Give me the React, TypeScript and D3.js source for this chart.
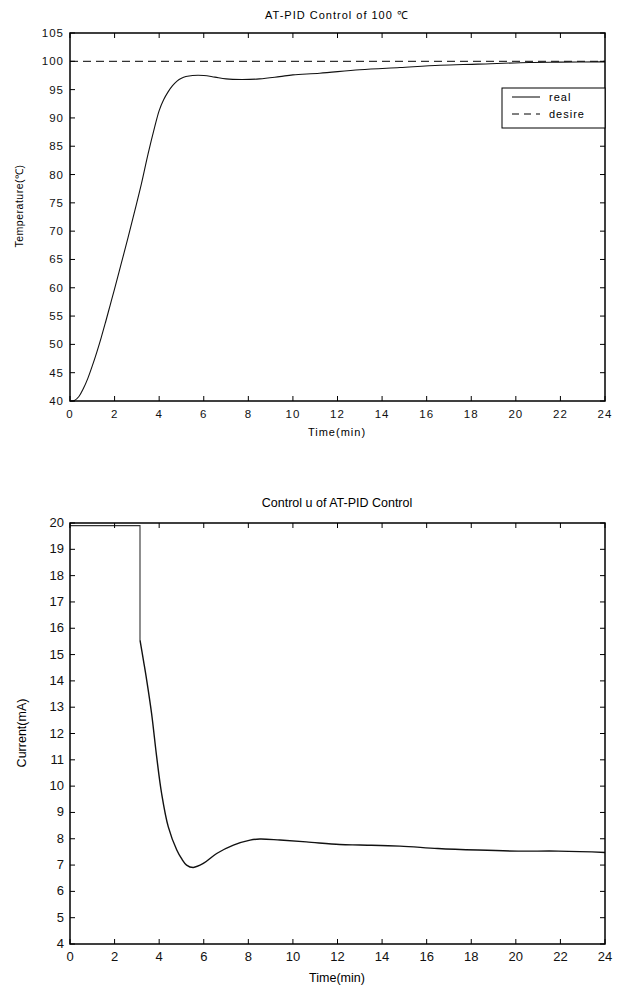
import React from 'react';
import * as d3 from 'd3';

// tick values
const timeTicks = [0, 2, 4, 6, 8, 10, 12, 14, 16, 18, 20, 22, 24];
const tempTicks = [40, 45, 50, 55, 60, 65, 70, 75, 80, 85, 90, 95, 100, 105];
const currentTicks = [4, 5, 6, 7, 8, 9, 10, 11, 12, 13, 14, 15, 16, 17, 18, 19, 20];

// temperature response (real) and set point (desire)
const tempTime = [0, 0.2, 0.4, 0.6, 0.8, 1.0, 1.2, 1.4, 1.6, 1.8, 2.0, 2.3, 2.6, 2.9, 3.2, 3.5, 3.8, 4.0, 4.2, 4.4, 4.6, 4.8, 5.0, 5.2, 5.5, 6.0, 6.5, 7.0, 7.7, 8.5, 9.4, 10, 11.2, 13, 14.8, 16.6, 18.3, 20.6, 22, 24];
const tempReal = [40, 40.1, 40.8, 42.2, 44.0, 46.2, 48.6, 51.2, 54.0, 56.9, 59.8, 64.3, 68.8, 73.5, 78.3, 83.6, 88.4, 91.3, 93.2, 94.6, 95.7, 96.5, 97.0, 97.3, 97.5, 97.5, 97.2, 96.9, 96.8, 96.9, 97.3, 97.6, 97.9, 98.5, 98.9, 99.3, 99.5, 99.8, 99.85, 99.9];
const desireTime = [0, 24];
const desireTemp = [100, 100];

// control signal u
const uHoldTime = [0, 3.14, 3.14];
const uHoldVal = [19.9, 19.9, 15.55];
const uTime = [3.14, 3.3, 3.44, 3.66, 3.89, 4.11, 4.41, 4.79, 5.0, 5.23, 5.53, 5.98, 6.58, 7.33, 8.08, 8.52, 9.42, 10.6, 12.1, 13.0, 14.8, 16.5, 18.3, 20.1, 21.9, 24];
const uVal = [15.55, 14.75, 14.03, 12.76, 11.1, 9.72, 8.45, 7.57, 7.25, 7.0, 6.91, 7.06, 7.44, 7.76, 7.95, 7.99, 7.95, 7.88, 7.78, 7.76, 7.72, 7.63, 7.57, 7.53, 7.53, 7.48];

const font = 'Liberation Sans, Arial, sans-serif';
const left = 70, right = 605;

function Frame({ x, y, xTicks, yTicks, spacing, size }) {
  const [x0, x1] = x.range();
  const [y0, y1] = y.range();
  const tk = 5;
  return (
    <g fontFamily={font} fontSize={size} letterSpacing={spacing} fill="#111">
      <rect x={x0} y={y1} width={x1 - x0} height={y0 - y1} fill="none" stroke="#000" strokeWidth={1.5} />
      {xTicks.map(t => (
        <g key={'x' + t}>
          <line x1={x(t)} x2={x(t)} y1={y0} y2={y0 - tk} stroke="#000" />
          <line x1={x(t)} x2={x(t)} y1={y1} y2={y1 + tk} stroke="#000" />
          <text x={x(t)} y={y0 + 17} textAnchor="middle">{t}</text>
        </g>
      ))}
      {yTicks.map(t => (
        <g key={'y' + t}>
          <line x1={x0} x2={x0 + tk} y1={y(t)} y2={y(t)} stroke="#000" />
          <line x1={x1} x2={x1 - tk} y1={y(t)} y2={y(t)} stroke="#000" />
          <text x={x0 - 6} y={y(t) + 4} textAnchor="end">{t}</text>
        </g>
      ))}
    </g>
  );
}

export default function App() {
  const x1 = d3.scaleLinear().domain([0, 24]).range([left, right]);
  const yT = d3.scaleLinear().domain([40, 105]).range([401, 33]);
  const x2 = d3.scaleLinear().domain([0, 24]).range([left, right]);
  const yU = d3.scaleLinear().domain([4, 20]).range([944, 523]);

  const realLine = d3.line().x(d => x1(d[0])).y(d => yT(d[1])).curve(d3.curveCatmullRom.alpha(0.5));
  const plain = (sx, sy) => d3.line().x(d => sx(d[0])).y(d => sy(d[1]));
  const uLine = d3.line().x(d => x2(d[0])).y(d => yU(d[1])).curve(d3.curveCatmullRom.alpha(0.5));

  const real = tempTime.map((t, i) => [t, tempReal[i]]);
  const desire = desireTime.map((t, i) => [t, desireTemp[i]]);
  const hold = uHoldTime.map((t, i) => [t, uHoldVal[i]]);
  const u = uTime.map((t, i) => [t, uVal[i]]);

  return (
    <svg width={625} height={987} style={{ position: 'absolute', left: 0, top: 0, background: '#fff' }}>
      {/* top chart */}
      <text x={337} y={19} textAnchor="middle" fontFamily={font} fontSize={11} letterSpacing={1}>AT-PID Control of 100 ℃</text>
      <path d={plain(x1, yT)(desire)} fill="none" stroke="#000" strokeDasharray="8,5" />
      <path d={realLine(real)} fill="none" stroke="#111" strokeWidth={1.1} />
      <Frame x={x1} y={yT} xTicks={timeTicks} yTicks={tempTicks} spacing={1} size={11.5} />
      <text x={337} y={436} textAnchor="middle" fontFamily={font} fontSize={11} letterSpacing={1}>Time(min)</text>
      <text transform="translate(23,206) rotate(-90)" textAnchor="middle" fontFamily={font} fontSize={10.5} letterSpacing={0.5}>Temperature(℃)</text>
      <g fontFamily={font} fontSize={11} letterSpacing={1}>
        <rect x={502} y={88} width={103} height={40} fill="#fff" stroke="#000" />
        <line x1={512} x2={540} y1={97} y2={97} stroke="#000" />
        <text x={549} y={101}>real</text>
        <line x1={512} x2={540} y1={114} y2={114} stroke="#000" strokeDasharray="7,5" />
        <text x={549} y={118}>desire</text>
      </g>

      {/* bottom chart */}
      <text x={337} y={507} textAnchor="middle" fontFamily={font} fontSize={12.5}>Control u of AT-PID Control</text>
      <path d={plain(x2, yU)(hold)} fill="none" stroke="#333" strokeWidth={1.1} />
      <path d={uLine(u)} fill="none" stroke="#111" strokeWidth={1.4} />
      <Frame x={x2} y={yU} xTicks={timeTicks} yTicks={currentTicks} spacing={0} size={13} />
      <text x={337} y={982} textAnchor="middle" fontFamily={font} fontSize={12.5}>Time(min)</text>
      <text transform="translate(26,733) rotate(-90)" textAnchor="middle" fontFamily={font} fontSize={12.5}>Current(mA)</text>
    </svg>
  );
}
